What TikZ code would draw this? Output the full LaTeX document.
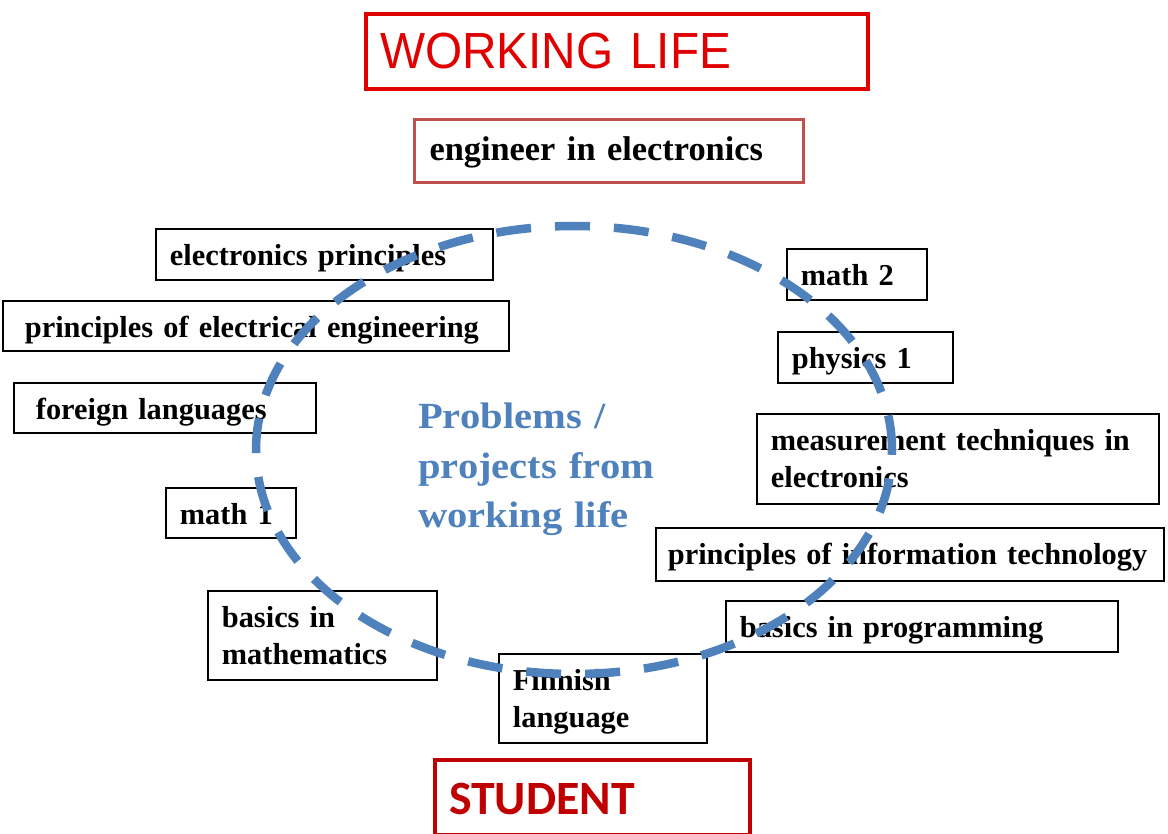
\documentclass[tikz,border=0pt]{standalone}
\usepackage{fontspec}
\setmainfont{Liberation Serif}
\newfontfamily\headfont[FakeStretch=0.94]{Liberation Sans}
\newfontfamily\studfont{Carlito}
\newfontfamily\probfont[FakeStretch=1.1]{Liberation Serif}
\usepackage{tikz}

\definecolor{wlred}{RGB}{224,0,0}
\definecolor{stred}{RGB}{192,0,0}
\definecolor{engred}{RGB}{192,80,77}
\definecolor{loopblue}{RGB}{79,129,189}

\tikzset{
	topic/.style={draw,line width=1.8bp,fill=white,anchor=north west,
		inner xsep=14bp,inner ysep=0pt,text height=37bp,text depth=14bp,
		font=\fontsize{30.5}{37}\selectfont\bfseries},
	twoline/.style={text depth=52bp},
	goal/.style={draw=#1,line width=4bp,anchor=north west,
		inner xsep=14bp,inner ysep=0pt,text height=54bp,text depth=21bp,text=#1}
}

\begin{document}
\begin{tikzpicture}[x=1bp,y=-1bp]
	\useasboundingbox (0,0) rectangle (1168,834);
	% top and bottom
	\node[goal=wlred,text width=474bp,font=\headfont\fontsize{51}{60}\selectfont] (work) at (364,12) {WORKING LIFE};
	\node[draw=engred,line width=3bp,anchor=north west,inner xsep=15bp,inner ysep=0pt,text width=359bp,
		text height=41bp,text depth=22bp,font=\fontsize{34.5}{40}\selectfont\bfseries] (eng) at (413,118) {engineer in electronics};
	\node[goal=stred,text width=287bp,font=\studfont\fontsize{48}{56}\selectfont\bfseries] (student) at (433,758) {STUDENT};
	% left side
	\node[topic,text width=309bp] (elprin) at (155,228) {electronics principles};
	\node[topic,inner xsep=22bp,text width=462bp,text depth=13bp] (eleng) at (2,300) {principles of electrical engineering};
	\node[topic,inner xsep=22bp,text width=258bp,text depth=13bp] (lang) at (13,382) {foreign languages};
	\node[topic,text width=102bp,text depth=13bp] (math1) at (165,487) {math 1};
	\node[topic,twoline,text width=201bp] (basmath) at (207,590) {basics in\\mathematics};
	\node[topic,twoline,text width=180bp] (finnish) at (498,653) {Finnish\\language};
	% right side
	\node[topic,text width=112bp] (math2) at (786,248) {math 2};
	\node[topic,text width=147bp] (phys) at (777,331) {physics 1};
	\node[topic,twoline,text width=374bp,text depth=53bp] (meas) at (756,413) {measurement techniques in\\electronics};
	\node[topic,inner xsep=12bp,text width=484bp,text depth=16bp] (infotech) at (655,527) {principles of information technology};
	\node[topic,text width=364bp] (prog) at (725,600) {basics in programming};
	% centre
	\node[anchor=north west,inner sep=0pt,text width=250bp,text height=28bp,text=loopblue,
		font=\probfont\fontsize{37}{50}\selectfont\bfseries] (prob) at (418,400) {Problems /\\projects from\\working life};
	\coordinate (hub) at (574,450);
	\draw[loopblue,line width=8.5bp,dash pattern=on 35bp off 24bp] (hub) ellipse [x radius=318bp,y radius=224bp];
\end{tikzpicture}
\end{document}
